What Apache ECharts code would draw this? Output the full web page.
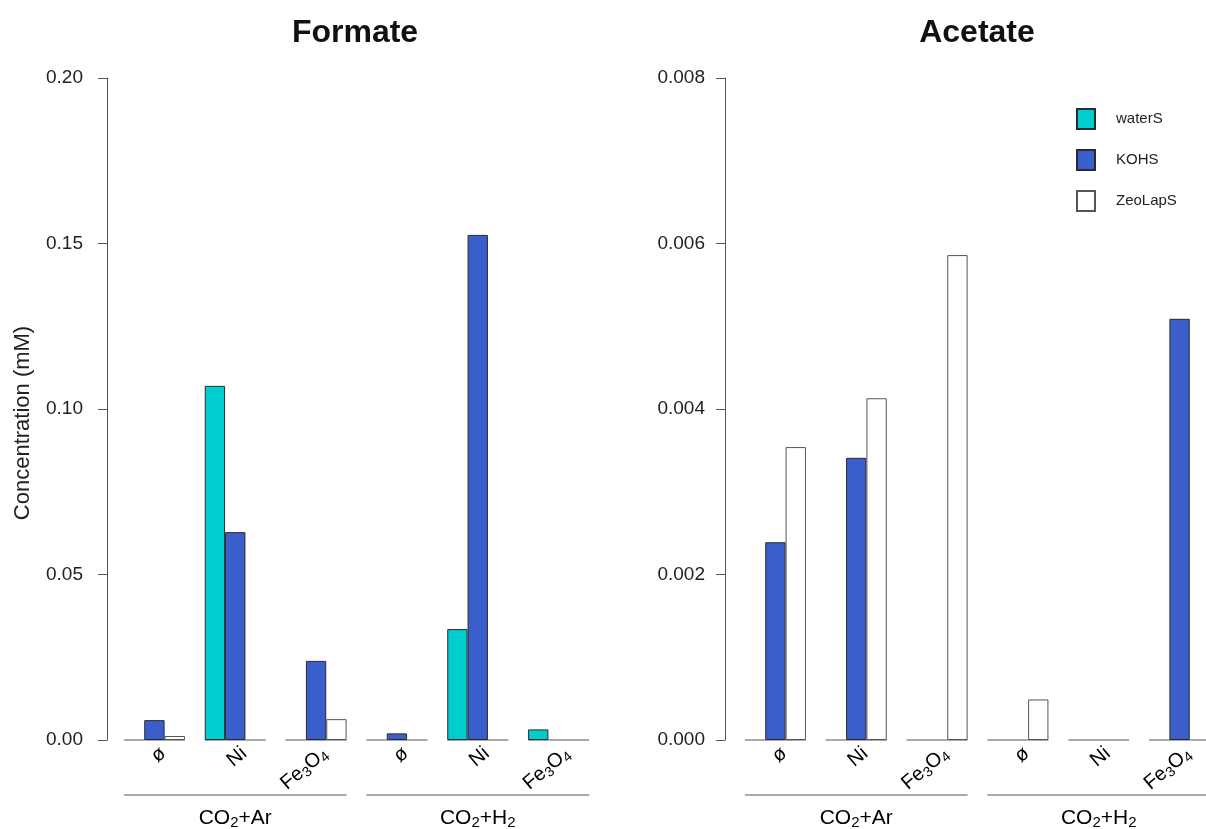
<!DOCTYPE html>
<html>
<head>
<meta charset="utf-8">
<script src="https://cdn.jsdelivr.net/npm/echarts@6/dist/echarts.min.js"></script>
<style>
  html, body { margin: 0; padding: 0; background: #fff; overflow: hidden; }
  #chart { width: 1230px; height: 829px; }
</style>
</head>
<body>
<div id="chart"></div>
<script>
// Catalysts tested under each gas atmosphere
const categories = ['ø', 'Ni', 'Fe3O4'];
const conditions = ['CO2+Ar', 'CO2+H2'];
const seriesNames = ['waterS', 'KOHS', 'ZeoLapS'];

// Formate concentration (mM), order: Ar ø, Ar Ni, Ar Fe3O4, H2 ø, H2 Ni, H2 Fe3O4
const formateWaterS  = [0, 0.107, 0, 0, 0.0335, 0.0032];
const formateKOHS    = [0.006, 0.0628, 0.0239, 0.002, 0.1526, 0];
const formateZeoLapS = [0.0012, 0, 0.0063, 0, 0, 0];

// Acetate concentration (mM)
const acetateWaterS  = [0, 0, 0, 0, 0, 0];
const acetateKOHS    = [0.00239, 0.00341, 0, 0, 0, 0.00509];
const acetateZeoLapS = [0.00354, 0.00413, 0.00586, 0.00049, 0, 0];

// Y axis ranges
const formateAxis = { min: 0, max: 0.20, interval: 0.05, digits: 2 };
const acetateAxis = { min: 0, max: 0.008, interval: 0.002, digits: 3 };

const FONT = 'Liberation Sans, Arial, Helvetica, sans-serif';
const colors = { waterS: '#00CDCD', KOHS: '#3A5FCD', ZeoLapS: '#FFFFFF' };
const borders = { waterS: '#2a2a2a', KOHS: '#2a2a2a', ZeoLapS: '#555' };
const GAP = 0.245;           // share of a category left empty between groups
const AXIS_GREY = '#555';
const TEXT = '#222';

// one key per group: condition index + catalyst
const groupKeys = [];
conditions.forEach((c, ci) => categories.forEach(cat => groupKeys.push(ci + '|' + cat)));

function richStyle(size, subSize) {
  return {
    n: { fontFamily: FONT, fontSize: size, color: TEXT, lineHeight: size + 4 },
    s: { fontFamily: FONT, fontSize: subSize, color: TEXT, lineHeight: subSize, verticalAlign: 'bottom' }
  };
}
const catRich = richStyle(20, 14);
const condRich = richStyle(21, 15);

function chem(str) {
  // digits become subscripts
  return str.replace(/([^\d]+)|(\d+)/g, (m, a, d) => a ? '{n|' + a + '}' : '{s|' + d + '}');
}

function buildPanel(idx, axisCfg, valuesBySeries, gridLeft, axisOffset, labelMargin) {
  const grid = { left: gridLeft, top: 78, width: 485, height: 662, containLabel: false };
  const xAxis = {
    type: 'category', gridIndex: idx, data: groupKeys,
    axisLine: { show: false }, axisTick: { show: false }, splitLine: { show: false },
    axisLabel: { show: false }
  };
  const yAxis = {
    type: 'value', gridIndex: idx, min: axisCfg.min, max: axisCfg.max, interval: axisCfg.interval,
    offset: axisOffset,
    axisLine: { show: true, lineStyle: { color: AXIS_GREY, width: 1 } },
    axisTick: { show: true, length: 9, lineStyle: { color: AXIS_GREY } },
    splitLine: { show: false },
    axisLabel: {
      margin: labelMargin, fontFamily: FONT, fontSize: 19, color: TEXT,
      formatter: v => v.toFixed(axisCfg.digits)
    }
  };
  const series = seriesNames.map((name, si) => ({
    type: 'bar', name: name, xAxisIndex: idx, yAxisIndex: idx,
    // empty bars collapse onto the baseline without an outline
    data: valuesBySeries[si].map(v => v === 0 ? { value: v, itemStyle: { borderWidth: 0 } } : v),
    barGap: '0%', barCategoryGap: (GAP * 100) + '%',
    itemStyle: { color: colors[name], borderColor: borders[name], borderWidth: 1 },
    z: 3
  }));
  // short baseline and slanted catalyst label under each group of bars
  series.push({
    type: 'custom', xAxisIndex: idx, yAxisIndex: idx, silent: true, clip: false, z: 2,
    data: groupKeys.map((k, i) => [i, 0]),
    renderItem: (params, api) => {
      const p = api.coord([api.value(0), api.value(1)]);
      const half = api.size([1, 0])[0] * (1 - GAP) / 2;
      const name = categories[params.dataIndex % categories.length];
      return {
        type: 'group',
        children: [
          {
            type: 'line',
            shape: { x1: p[0] - half, y1: p[1], x2: p[0] + half, y2: p[1] },
            style: { stroke: AXIS_GREY, lineWidth: 1 }
          },
          {
            type: 'text', x: p[0] + 9, y: p[1] + 11, rotation: 40 * Math.PI / 180,
            style: { text: chem(name), rich: catRich, align: 'right', verticalAlign: 'middle' }
          }
        ]
      };
    }
  });
  // bracket line and label for each gas condition
  series.push({
    type: 'custom', xAxisIndex: idx, yAxisIndex: idx, silent: true, clip: false, z: 2,
    data: conditions.map((c, ci) => [ci * categories.length, ci * categories.length + categories.length - 1, 0, ci]),
    encode: { x: [0, 1], y: 2 },
    renderItem: (params, api) => {
      const a = api.coord([api.value(0), api.value(2)]);
      const b = api.coord([api.value(1), api.value(2)]);
      const half = api.size([1, 0])[0] * (1 - GAP) / 2;
      const x1 = a[0] - half, x2 = b[0] + half, y = a[1] + 55;
      return {
        type: 'group',
        children: [
          { type: 'line', shape: { x1: x1, y1: y, x2: x2, y2: y }, style: { stroke: AXIS_GREY, lineWidth: 1 } },
          {
            type: 'text', x: (x1 + x2) / 2, y: y + 23,
            style: {
              text: chem(conditions[api.value(3)]), rich: condRich,
              align: 'center', verticalAlign: 'middle'
            }
          }
        ]
      };
    }
  });
  return { grid, xAxis, yAxis, series };
}

const left = buildPanel(0, formateAxis, [formateWaterS, formateKOHS, formateZeoLapS], 114, 7, 24);
const right = buildPanel(1, acetateAxis, [acetateWaterS, acetateKOHS, acetateZeoLapS], 735, 10, 20);

const chart = echarts.init(document.getElementById('chart'), null, { renderer: 'canvas' });
chart.setOption({
  animation: false,
  backgroundColor: '#fff',
  title: [
    { text: 'Formate', left: 350, top: 12, textAlign: 'center',
      textStyle: { fontFamily: FONT, fontSize: 32, fontWeight: 'bold', color: '#111' } },
    { text: 'Acetate', left: 972, top: 12, textAlign: 'center',
      textStyle: { fontFamily: FONT, fontSize: 32, fontWeight: 'bold', color: '#111' } }
  ],
  legend: {
    data: seriesNames, orient: 'vertical', left: 1071, top: 103,
    icon: 'rect', itemWidth: 18, itemHeight: 20, itemGap: 19,
    selectedMode: false,
    textStyle: { fontFamily: FONT, fontSize: 15, color: TEXT, padding: [0, 0, 0, 16] }
  },
  grid: [left.grid, right.grid],
  xAxis: [left.xAxis, right.xAxis],
  yAxis: [left.yAxis, right.yAxis],
  series: left.series.concat(right.series),
  graphic: [{
    type: 'text', x: 23, y: 423, rotation: Math.PI / 2,
    style: {
      text: 'Concentration (mM)', font: '22px ' + FONT, fill: TEXT,
      align: 'center', verticalAlign: 'middle'
    }
  }]
});
</script>
</body>
</html>
